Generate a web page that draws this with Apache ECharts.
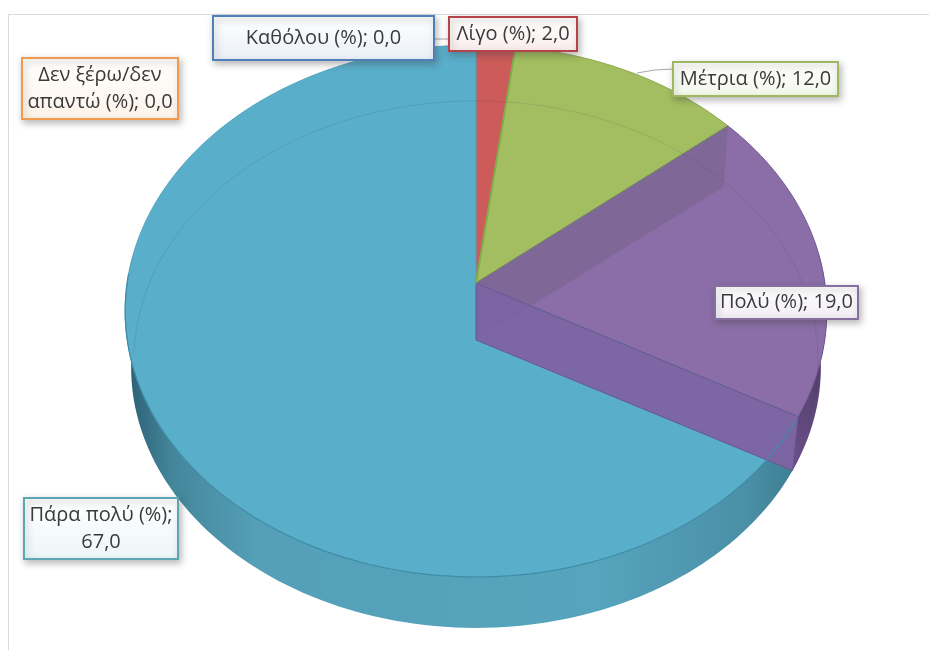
<!DOCTYPE html>
<html>
<head>
<meta charset="utf-8">
<style>
  html, body { margin: 0; padding: 0; background: #fff; }
  #chart { width: 929px; height: 650px; }
</style>
<script src="https://cdn.jsdelivr.net/npm/echarts@6/dist/echarts.min.js"></script>
</head>
<body>
<div id="chart"></div>
<script>
// values, clockwise from 12 o'clock
const categories = ['Δεν ξέρω/δεν απαντώ', 'Καθόλου', 'Λίγο', 'Μέτρια', 'Πολύ', 'Πάρα πολύ'];
const values = [0, 0, 2, 12, 19, 67];
const topColors = ['#F79646', '#4F81BD', '#CC5B59', '#A2BE60', '#8B6EA8', '#59AEC9'];

// label box styling and where each one sits: [x, y, w, h]
const labelBorders = ['#F39A4F', '#4F7FB8', '#B5444A', '#9DB860', '#8670A0', '#5FA6B4'];
const labelTints = ['#FDF3E9', '#EAF0F8', '#F9ECEC', '#F3F7EA', '#F1EDF5', '#EDF6F8'];
const labelBoxes = [
  [22, 58, 156, 61],
  [213, 16, 221, 44],
  [449, 17, 128, 34],
  [673, 62, 165, 34],
  [715, 286, 143, 33],
  [24, 498, 154, 61]
];
const labelBreaks = ['Δεν ξέρω/δεν\nαπαντώ', null, null, null, null, null];
const valueBreak = [false, false, false, false, false, true];

const tilt = 0.105;
const toRad = Math.PI / 180;

// cumulative angles, degrees clockwise from top
const sliceStart = [];
let running = 0;
values.forEach(function (v) {
  sliceStart.push(running);
  running += v * 3.6;
});

// perspective of the tilted disc, in axis units
function project(deg, radius, lowered) {
  const u = radius * Math.sin(deg * toRad);
  const v = radius * Math.cos(deg * toRad);
  const d = 1 + tilt * v;
  let x = 0.994 * u / d;
  let y = (tilt + v) / d;
  if (lowered) {
    x *= 0.983;
    y -= 0.214 + 0.0226 * v;
  }
  return [x, y];
}

function arc(from, to, radius, lowered) {
  const pts = [];
  const steps = Math.max(2, Math.ceil(Math.abs(to - from) / 1.5));
  for (let i = 0; i <= steps; i++) {
    pts.push(project(from + (to - from) * i / steps, radius, lowered));
  }
  return pts;
}

function poly(api, pts, style) {
  return {
    type: 'polygon',
    shape: { points: pts.map(function (p) { return api.coord(p); }) },
    style: style
  };
}

function line(api, pts, stroke, width) {
  return {
    type: 'polyline',
    shape: { points: pts.map(function (p) { return api.coord(p); }) },
    style: { fill: 'none', stroke: stroke, lineWidth: width }
  };
}

const blueWallFill = new echarts.graphic.LinearGradient(0, 0, 1, 0, [
  { offset: 0, color: '#2B5E72' },
  { offset: 0.07, color: '#44869B' },
  { offset: 0.2, color: '#55A0B8' },
  { offset: 0.7, color: '#56A4BD' },
  { offset: 0.92, color: '#4A90A7' },
  { offset: 1, color: '#3D7E92' }
]);
const purpleWallFill = new echarts.graphic.LinearGradient(0, 1, 0, 0, [
  { offset: 0, color: '#6A5088' },
  { offset: 1, color: '#3C2C52' }
]);

// outer rim, only the part facing the viewer
function renderWall(params, api) {
  const i = params.dataIndex;
  const from = Math.max(sliceStart[i], 84);
  const to = Math.min(sliceStart[i] + api.value(1) * 3.6, 276);
  if (to <= from) return null;
  const upper = arc(from, to, 1, false);
  const lower = arc(to, from, 1, true);
  return poly(api, upper.concat(lower), {
    fill: i === 5 ? blueWallFill : purpleWallFill
  });
}

function renderTop(params, api) {
  const i = params.dataIndex;
  const sweep = api.value(1) * 3.6;
  if (sweep === 0) return null;
  const pts = [project(0, 0, false)].concat(arc(sliceStart[i], sliceStart[i] + sweep, 1, false));
  const edge = { 2: '#B9504F', 3: '#8FA955', 4: '#6F5A90', 5: '#55A6C1' }[i];
  return poly(api, pts, { fill: topColors[i], stroke: edge, lineWidth: 1 });
}

// the cut faces of the purple slice, seen through the glassy top
function renderInside(params, api) {
  if (params.dataIndex !== 4) return null;
  const a = sliceStart[4];
  const b = a + api.value(1) * 3.6;
  const centreTop = project(0, 0, false);
  const centreLow = project(0, 0, true);
  return {
    type: 'group',
    children: [
      poly(api, [centreTop, project(a, 1, false), project(a, 1, true), centreLow], {
        fill: 'rgba(112, 96, 130, 0.42)'
      }),
      poly(api, [centreTop, project(b, 1, false), project(b, 1, true), centreLow], {
        fill: 'rgba(125, 99, 162, 0.97)',
        stroke: '#6A5592',
        lineWidth: 1
      }),
      line(api, [centreTop, project(a, 1, false)], '#7A8A62', 1),
      line(api, [centreTop, project(sliceStart[3], 1, false)], '#7FAE4B', 2)
    ]
  };
}

// far edge of the underside, shows faintly through the top
function renderRim(params, api) {
  const back = arc(-94, 110, 0.975, false).map(function (p) {
    return [p[0], p[1] - 0.19];
  });
  const front = arc(sliceStart[5] + 1, 272, 1, false);
  return {
    type: 'group',
    children: [
      line(api, back, 'rgba(40, 50, 70, 0.12)', 1),
      line(api, front, '#3F8CA6', 1.2)
    ]
  };
}

const seriesData = values.map(function (v, i) { return [i, v]; });

function labelText(i) {
  const head = labelBreaks[i] || categories[i];
  const num = values[i].toFixed(1).replace('.', ',');
  return head + ' (%);' + (valueBreak[i] ? '\n' : ' ') + num;
}

const graphics = [
  // chart area frame, top and left only
  {
    type: 'polyline',
    z: 1,
    shape: { points: [[8.5, 650], [8.5, 14.5], [929, 14.5]] },
    style: { fill: 'none', stroke: '#DADADA', lineWidth: 1 }
  },
  // leader lines
  {
    type: 'polyline',
    z: 90,
    shape: { points: [[434, 39], [450, 39]] },
    style: { fill: 'none', stroke: '#A6A6A6', lineWidth: 1 }
  },
  {
    type: 'polyline',
    z: 90,
    shape: { points: [[637, 73], [655, 70], [673, 69]] },
    style: { fill: 'none', stroke: '#A6A6A6', lineWidth: 1 }
  }
];

labelBoxes.forEach(function (box, i) {
  graphics.push({
    type: 'rect',
    z: 100,
    shape: { x: box[0], y: box[1], width: box[2], height: box[3] },
    style: {
      fill: new echarts.graphic.LinearGradient(0, 0, 0, 1, [
        { offset: 0, color: '#FFFFFF' },
        { offset: 1, color: labelTints[i] }
      ]),
      stroke: labelBorders[i],
      lineWidth: 2,
      shadowBlur: 7,
      shadowOffsetX: 2,
      shadowOffsetY: 3,
      shadowColor: 'rgba(60, 60, 60, 0.35)'
    }
  });
  graphics.push({
    type: 'text',
    z: 101,
    style: {
      text: labelText(i),
      x: box[0] + box[2] / 2,
      y: box[1] + box[3] / 2,
      align: 'center',
      verticalAlign: 'middle',
      fontFamily: '"Open Sans", sans-serif',
      fontSize: 20,
      lineHeight: 27,
      fill: '#3A3A3A'
    }
  });
});

const chart = echarts.init(document.getElementById('chart'), null, { renderer: 'canvas' });
chart.setOption({
  animation: false,
  backgroundColor: '#fff',
  grid: { left: 125, top: 45, width: 702, height: 532 },
  xAxis: { type: 'value', min: -1, max: 1, show: false },
  yAxis: { type: 'value', min: -1, max: 1, show: false },
  graphic: graphics,
  series: [
    { type: 'custom', name: 'wall', z: 2, data: seriesData, renderItem: renderWall, silent: true },
    { type: 'custom', name: 'top', z: 3, data: seriesData, renderItem: renderTop, silent: true },
    { type: 'custom', name: 'inside', z: 4, data: seriesData, renderItem: renderInside, silent: true },
    { type: 'custom', name: 'rim', z: 5, data: [[0, 0]], renderItem: renderRim, silent: true }
  ]
});
window.addEventListener('resize', chart.resize);
</script>
</body>
</html>
